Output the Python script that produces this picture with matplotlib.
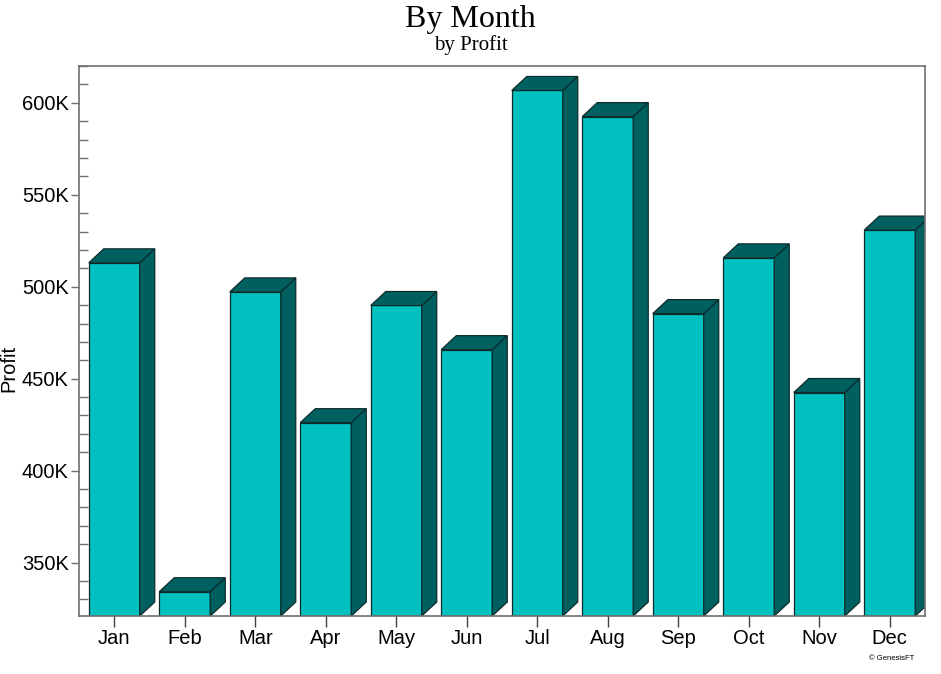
import numpy as np
import matplotlib
matplotlib.use('Agg')
import matplotlib.pyplot as plt
from matplotlib.patches import Polygon
from matplotlib.ticker import MultipleLocator, FuncFormatter

months = ['Jan', 'Feb', 'Mar', 'Apr', 'May', 'Jun',
          'Jul', 'Aug', 'Sep', 'Oct', 'Nov', 'Dec']
profit = [513000, 334200, 497200, 426100, 489800, 465800,
          606700, 592500, 485400, 515700, 442500, 530800]

FRONT = "#00c0c0"
DARK = "#006060"
EDGE = "#0d2b2b"
SPINE = "#707070"

plt.rcParams['font.family'] = ['Liberation Sans', 'DejaVu Sans']

fig = plt.figure(figsize=(9.41, 6.74), dpi=100)
ax = fig.add_axes([79 / 941, 58 / 674, 846 / 941, 550 / 674])

y_lo, y_hi = 321000, 620000
ax.set_xlim(-0.5, len(months) - 0.5)
ax.set_ylim(y_lo, y_hi)

x = np.arange(len(months))
w = 0.723
dx = 0.213      # depth of the fake 3d, in category units
dy = 7600       # depth in profit units

ax.bar(x, np.array(profit) - y_lo, bottom=y_lo, width=w, color=FRONT,
       edgecolor=EDGE, linewidth=0.9, zorder=2)
for xi, v in zip(x, profit):
    r = xi + w / 2
    l = xi - w / 2
    side = Polygon([(r, y_lo), (r + dx, y_lo + dy), (r + dx, v + dy), (r, v)],
                   closed=True, facecolor=DARK, edgecolor=EDGE, linewidth=0.9, zorder=2)
    top = Polygon([(l, v), (l + dx, v + dy), (r + dx, v + dy), (r, v)],
                  closed=True, facecolor=DARK, edgecolor=EDGE, linewidth=0.9, zorder=2)
    ax.add_patch(side)
    ax.add_patch(top)

for s in ax.spines.values():
    s.set_color(SPINE)
    s.set_linewidth(1.2)

ax.yaxis.set_major_locator(MultipleLocator(50000))
ax.yaxis.set_minor_locator(MultipleLocator(10000))
ax.yaxis.set_major_formatter(FuncFormatter(lambda v, p: f"{int(round(v / 1000))}K"))
ax.tick_params(axis='y', which='major', direction='out', length=6, width=1,
               color=SPINE, labelsize=14.5, pad=1.5, labelcolor='black')
ax.tick_params(axis='y', which='minor', direction='in', length=6.5, width=1, color=SPINE)

ax.set_xticks(x)
ax.set_xticklabels(months)
ax.tick_params(axis='x', which='major', direction='inout', length=16.5, width=1,
               color='#404040', labelsize=14.5, pad=1, labelcolor='black')

ax.set_ylabel('Profit', fontsize=14.5)
ax.yaxis.set_label_coords(-61 / 846, 0.45)

fig.text(0.5, 1 - 27 / 674, 'By Month', ha='center', va='baseline',
         fontsize=23, family='Liberation Serif')
fig.text(0.5, 1 - 50 / 674, 'by Profit', ha='center', va='baseline',
         fontsize=15, family='Liberation Serif')
fig.text(892 / 941, 1 - 659 / 674, '© GenesisFT', ha='center', va='center', fontsize=5.5)

fig.savefig('out.png', dpi=100)
